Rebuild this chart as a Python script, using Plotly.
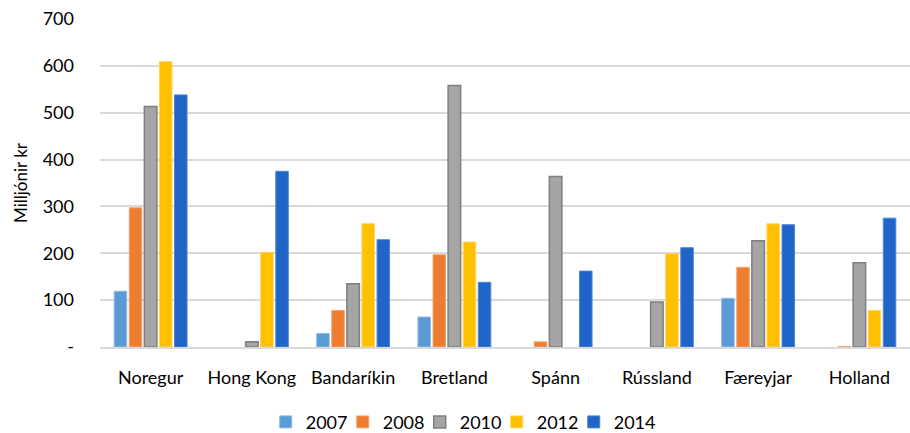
import plotly.graph_objects as go

categories = ["Noregur", "Hong Kong", "Bandaríkin", "Bretland", "Spánn", "Rússland", "Færeyjar", "Holland"]
years = ["2007", "2008", "2010", "2012", "2014"]
v2007 = [119, None, 29, 64, None, None, 104, None]
v2008 = [297, None, 78, 197, 11, None, 170, 1]
v2010 = [513, 11, 135, 558, 364, 96, 227, 180]
v2012 = [609, 202, 263, 224, None, 199, 263, 78]
v2014 = [538, 375, 229, 138, 162, 212, 261, 275]
series = [v2007, v2008, v2010, v2012, v2014]

colors = ["#5B9BD5", "#ED7D31", "#A5A5A5", "#FFC000", "#2064C8"]
lines = ["#8DBAE3", "#F4A26E", "#7F7F7F", "#FFD45C", "#4D86D8"]

ytickvals = [0, 100, 200, 300, 400, 500, 600, 700]
yticktext = ["-", "100", "200", "300", "400", "500", "600", "700"]

fig = go.Figure()
for y, vals, c, lc in zip(years, series, colors, lines):
    fig.add_trace(go.Bar(name=y, x=categories, y=vals,
                         marker=dict(color=c, line=dict(color=lc, width=1.5 if y == "2010" else 1))))
# invisible spacer entry so the last legend label is not clipped
fig.add_trace(go.Scatter(x=[None], y=[None], mode="markers", name=" ",
                         marker=dict(color="rgba(0,0,0,0)", size=1, line=dict(width=0, color="rgba(0,0,0,0)")),
                         hoverinfo="skip"))

font = "Lato, Carlito, Calibri, sans-serif"
fig.update_layout(
    width=910, height=433,
    margin=dict(l=100, r=0, t=19, b=86, autoexpand=False),
    paper_bgcolor="white", plot_bgcolor="white",
    barmode="group", bargap=0.255, bargroupgap=0.17,
    font=dict(family=font, size=18, color="#000000"),
    showlegend=True,
    legend=dict(orientation="h", xref="container", x=0.292, xanchor="left",
                yref="container", y=0.025, yanchor="middle",
                font=dict(size=18), itemwidth=30, entrywidth=32, entrywidthmode="pixels",
                traceorder="normal", tracegroupgap=0),
    xaxis=dict(showgrid=False, showline=True, linecolor="#D9D9D9", linewidth=1.5,
               ticks="", tickfont=dict(size=18), ticklabelstandoff=14),
    yaxis=dict(range=[0, 700], tickvals=ytickvals, ticktext=yticktext,
               showgrid=True, gridcolor="#D9D9D9", gridwidth=1.5, zeroline=False,
               showline=False, ticks="", ticklabelstandoff=25, tickfont=dict(size=18),
               title=dict(text="Milljónir kr", font=dict(size=17), standoff=10)),
)
fig.write_html("out.html")
